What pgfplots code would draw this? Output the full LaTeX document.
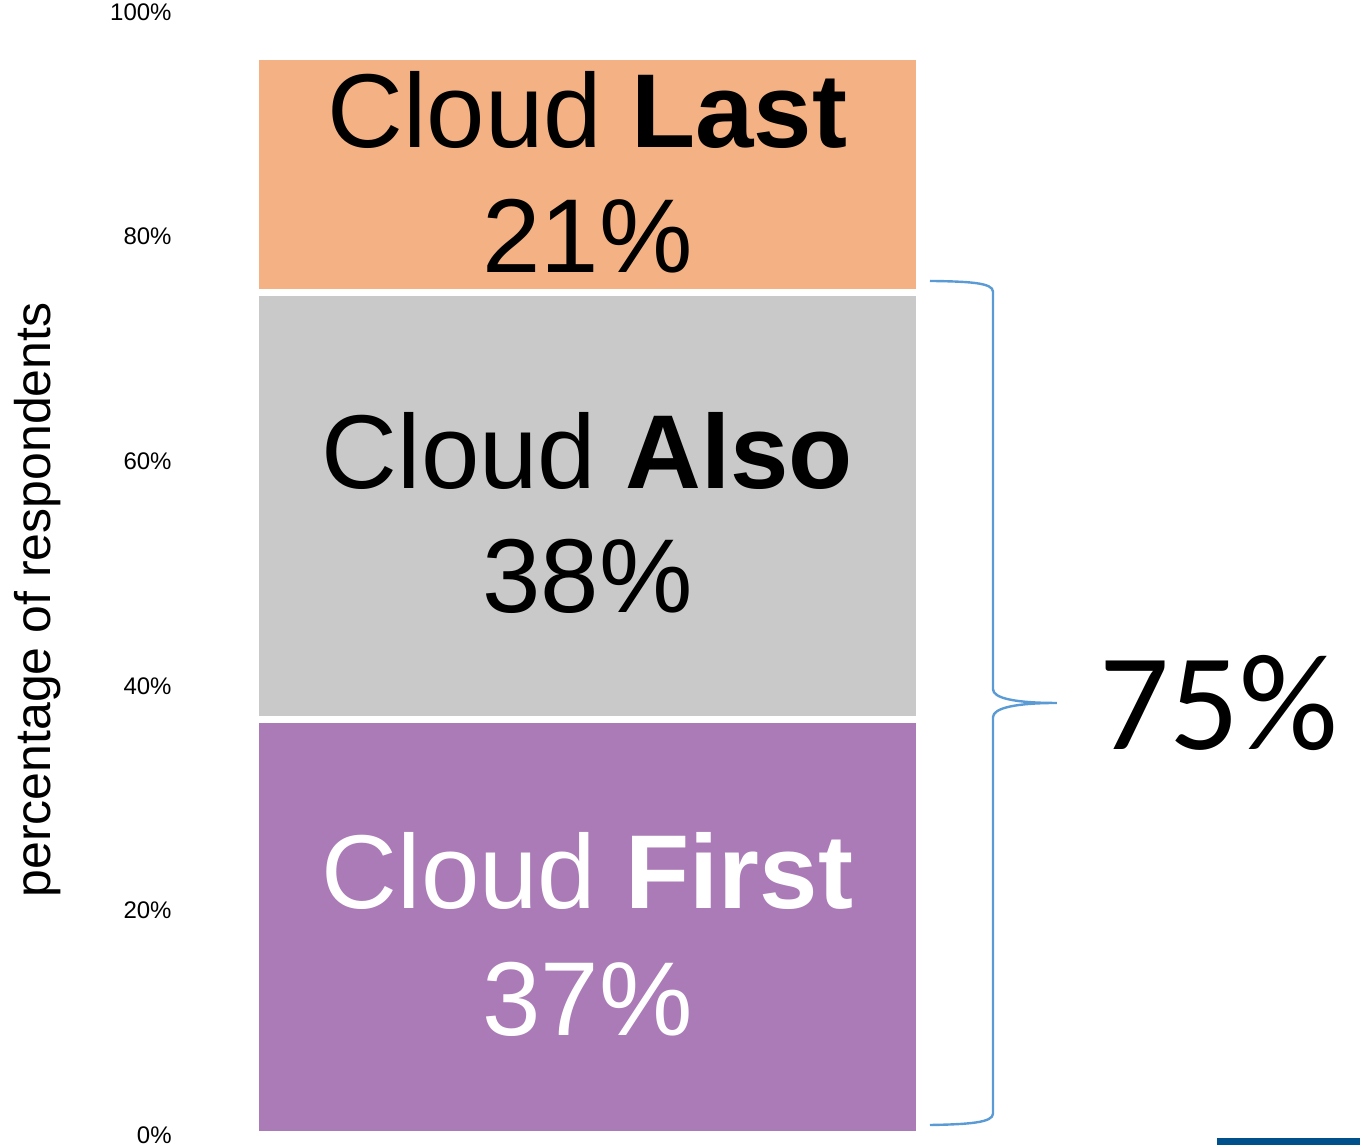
\documentclass[border=0pt]{standalone}
\usepackage{fontspec}
\setmainfont{Liberation Sans}
\newfontfamily\calibri{Carlito}
\usepackage{pgfplots}
\pgfplotsset{compat=1.18}
\definecolor{cLast}{HTML}{F4B183}
\definecolor{cAlso}{HTML}{C9C9C9}
\definecolor{cFirst}{HTML}{AB7BB7}
\definecolor{cBrace}{HTML}{5B9BD5}
\definecolor{cNavy}{HTML}{00508C}
\newcommand{\bigfont}{\fontsize{52.5}{63}\selectfont}
\begin{document}
\begin{tikzpicture}
\path[use as bounding box] (-129.5pt,-5pt) rectangle (550.5pt,567.5pt);
\begin{axis}[
  at={(0pt,0pt)}, anchor=south west,
  scale only axis, width=328.5pt, height=561.5pt,
  xmin=0, xmax=1, ymin=0, ymax=100,
  clip=false,
  axis line style={draw=none},
  tick style={draw=none},
  xtick=\empty,
  ytick={0,20,40,60,80,100},
  yticklabel={\pgfmathprintnumber{\tick}\%},
  yticklabel style={font=\fontsize{12}{14}\selectfont, anchor=east, inner sep=0pt, xshift=-43.5pt},
  /pgf/number format/assume math mode=true,
  ylabel={percentage of respondents},
  ylabel style={at={(axis description cs:-0.3364,0.4764)}, anchor=center, font=\fontsize{25}{30}\selectfont},
  ybar stacked, bar width=332pt,
]
\addplot[fill=cFirst, draw=white, line width=3.5pt] coordinates {(0.5,37)};
\addplot[fill=cAlso, draw=white, line width=3.5pt] coordinates {(0.5,38)};
\addplot[fill=cLast, draw=white, line width=3.5pt] coordinates {(0.5,21)};

\coordinate (L1) at (axis cs:0.5,87.9);
\coordinate (L2) at (axis cs:0.5,76.8);
\coordinate (A1) at (axis cs:0.5,57.6);
\coordinate (A2) at (axis cs:0.5,46.5);
\coordinate (F1) at (axis cs:0.5,20.2);
\coordinate (F2) at (axis cs:0.5,8.9);

\draw[cBrace, line width=1.2pt]
  (axis cs:1.0213,76.05) .. controls (axis cs:1.08,76.0) and (axis cs:1.1172,75.9) .. (axis cs:1.1172,75.1)
  -- (axis cs:1.1172,39.7)
  .. controls (axis cs:1.1172,38.9) and (axis cs:1.15,38.47) .. (axis cs:1.2146,38.47)
  .. controls (axis cs:1.15,38.47) and (axis cs:1.1172,38.0) .. (axis cs:1.1172,37.2)
  -- (axis cs:1.1172,1.9)
  .. controls (axis cs:1.1172,1.1) and (axis cs:1.08,0.95) .. (axis cs:1.0213,0.89);

\node[anchor=base, font=\calibri\fontsize{69}{80}\selectfont] at (axis cs:1.461,34.3) {75\%};

\fill[cNavy] (axis cs:1.458,-0.27) rectangle (axis cs:1.75,-1.5);
\end{axis}
\node[anchor=base, font=\bigfont] at (L1) {Cloud \textbf{Last}};
\node[anchor=base, font=\bigfont] at (L2) {21\%};
\node[anchor=base, font=\bigfont] at (A1) {Cloud \textbf{Also}};
\node[anchor=base, font=\bigfont] at (A2) {38\%};
\node[anchor=base, font=\bigfont, text=white] at (F1) {Cloud \textbf{First}};
\node[anchor=base, font=\bigfont, text=white] at (F2) {37\%};
\end{tikzpicture}
\end{document}
